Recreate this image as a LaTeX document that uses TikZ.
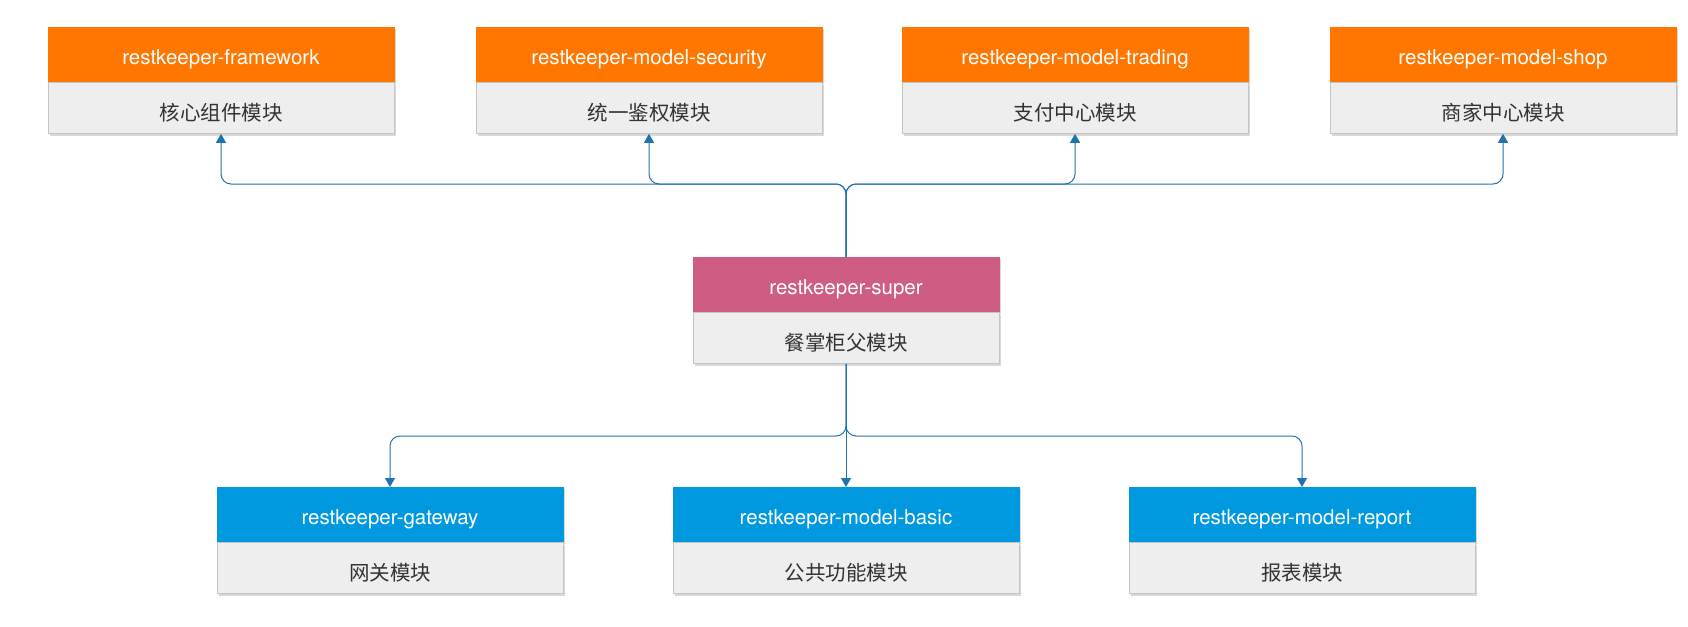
\documentclass[tikz,border=0pt]{standalone}
\usepackage{fontspec}
\setmainfont{TeX Gyre Heros}
\newfontfamily\cjk{Noto Sans CJK SC}
\usetikzlibrary{positioning}
\usetikzlibrary{arrows.meta,shadows}
\definecolor{headOrange}{HTML}{FF7700}
\definecolor{headPink}{HTML}{CF5C82}
\definecolor{headBlue}{HTML}{0099E0}
\definecolor{bodyGray}{HTML}{EEEEEE}
\definecolor{bodyLine}{HTML}{C4C4C4}
\definecolor{textGray}{HTML}{333333}
\definecolor{linkBlue}{HTML}{2272AE}
\tikzset{
  modhead/.style={
    fill=#1, draw=#1, text=white, inner sep=0pt,
    minimum width=346pt, minimum height=55pt,
    text height=19pt, text depth=0pt,
    font=\fontsize{20.5}{24}\selectfont,
    drop shadow={shadow xshift=2pt, shadow yshift=-2pt, opacity=0.15, fill=black},
  },
  modbody/.style={
    fill=bodyGray, draw=bodyLine, text=textGray, inner sep=0pt,
    minimum width=346pt, minimum height=51pt,
    text height=24pt, text depth=0pt,
    font=\cjk\fontsize{20.5}{24}\selectfont,
    drop shadow={shadow xshift=2pt, shadow yshift=-2pt, opacity=0.15, fill=black},
  },
  narrow/.style={minimum width=306pt},
  link/.style={
    draw=linkBlue, line width=1pt, rounded corners=10pt,
    -{Triangle[width=10pt,length=9pt]},
  },
}
\begin{document}
\begin{tikzpicture}[x=1pt, y=-1pt, node distance=0pt]
        \useasboundingbox (0,0) rectangle (1688,626);

        % upper row
        \node[modhead=headOrange, anchor=north] (fw) at (221,27) {restkeeper-framework};
        \node[modbody, below=of fw] (fwb) {核心组件模块};
        \node[modhead=headOrange, anchor=north] (sec) at (649,27) {restkeeper-model-security};
        \node[modbody, below=of sec] (secb) {统一鉴权模块};
        \node[modhead=headOrange, anchor=north] (trd) at (1075,27) {restkeeper-model-trading};
        \node[modbody, below=of trd] (trdb) {支付中心模块};
        \node[modhead=headOrange, anchor=north] (shop) at (1503,27) {restkeeper-model-shop};
        \node[modbody, below=of shop] (shopb) {商家中心模块};

        % parent
        \node[modhead=headPink, narrow, anchor=north] (sup) at (846,257) {restkeeper-super};
        \node[modbody, narrow, below=of sup] (supb) {餐掌柜父模块};

        % lower row
        \node[modhead=headBlue, anchor=north] (gw) at (390,487) {restkeeper-gateway};
        \node[modbody, below=of gw] (gwb) {网关模块};
        \node[modhead=headBlue, anchor=north] (bas) at (846,487) {restkeeper-model-basic};
        \node[modbody, below=of bas] (basb) {公共功能模块};
        \node[modhead=headBlue, anchor=north] (rep) at (1302,487) {restkeeper-model-report};
        \node[modbody, below=of rep] (repb) {报表模块};

        \coordinate (upbus) at (846,184);
        \coordinate (downbus) at (846,436);

        \draw[link] (sup.north) -- (upbus) -| (fwb.south);
        \draw[link] (sup.north) -- (upbus) -| (secb.south);
        \draw[link] (sup.north) -- (upbus) -| (trdb.south);
        \draw[link] (sup.north) -- (upbus) -| (shopb.south);

        \draw[link] (supb.south) -- (downbus) -| (gw.north);
        \draw[link] (supb.south) -- (bas.north);
        \draw[link] (supb.south) -- (downbus) -| (rep.north);

\end{tikzpicture}
\end{document}
